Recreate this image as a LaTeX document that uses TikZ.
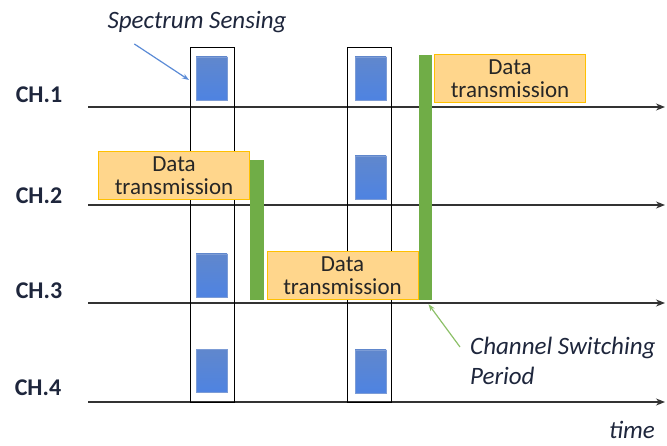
\documentclass[tikz,border=0pt]{standalone}
\usepackage{fontspec}
\setmainfont{Carlito}
\usepackage{xcolor}
\usetikzlibrary{arrows.meta, positioning, calc}

\definecolor{dataorange}{RGB}{255,214,140}
\definecolor{databorder}{RGB}{255,192,0}
\definecolor{switchgreen}{RGB}{112,173,71}
\definecolor{senseblue}{RGB}{68,114,196}
\definecolor{arrowblue}{RGB}{91,139,214}
\definecolor{arrowgreen}{RGB}{140,192,104}
\definecolor{labelink}{RGB}{30,38,60}

\tikzset{
  chlabel/.style={font=\fontsize{24}{26}\selectfont\bfseries, text=labelink, inner sep=0},
  chline/.style={draw=black!80, line width=1.2pt, -{Stealth[length=9pt,width=7pt]}},
  frame/.style={draw=black, line width=1pt, minimum width=44pt, minimum height=354pt, inner sep=0},
  sensebox/.style={draw=senseblue!70, top color=senseblue!85, bottom color=senseblue!115!black, minimum width=31pt, minimum height=43pt, inner sep=0},
  databox/.style={draw=databorder, fill=dataorange, line width=1pt, minimum width=151pt, minimum height=48pt, inner sep=0, align=center, font=\fontsize{23}{23}\selectfont, text=black!85},
  switchbar/.style={fill=switchgreen, draw=none, minimum width=14pt, inner sep=0},
  note/.style={font=\fontsize{25}{30}\selectfont\itshape, text=labelink, inner sep=0}
}

\begin{document}
\begin{tikzpicture}[x=1pt, y=-1pt]
\useasboundingbox (0,0) rectangle (667,446);

% channels
\node[chlabel] (ch1) at (39,95) {CH.1};
\node[chlabel] (ch2) at (39,196) {CH.2};
\node[chlabel] (ch3) at (39,291) {CH.3};
\node[chlabel] (ch4) at (38,388) {CH.4};

\coordinate (l1) at (88,107);
\coordinate (r1) at (665,107);
\coordinate (l2) at (88,205);
\coordinate (r2) at (665,205);
\coordinate (l3) at (88,303);
\coordinate (r3) at (665,303);
\coordinate (l4) at (88,402);
\coordinate (r4) at (665,402);

\draw[chline] (l1) -- (r1);
\draw[chline] (l2) -- (r2);
\draw[chline] (l3) -- (r3);
\draw[chline] (l4) -- (r4);

% sensing frames
\node[frame] (frameA) at (212,225) {};
\node[frame] (frameB) at (369.5,225) {};

\node[sensebox] (sA1) at (211.5,78.5) {};
\node[sensebox] (sA3) at (211.5,275.5) {};
\node[sensebox] (sA4) at (211.5,371) {};
\node[sensebox] (sB1) at (370.5,78.5) {};
\node[sensebox] (sB2) at (370.5,177.5) {};
\node[sensebox] (sB4) at (370.5,371.5) {};

% data transmission
\node[databox] (dataA) at (174,176) {Data\\transmission};
\node[databox] (dataB) at (342.5,275.5) {Data\\transmission};
\node[databox] (dataC) at (510,78.5) {Data\\transmission};

% switching periods
\node[switchbar, minimum height=140pt] (swA) at (257,230) {};
\node[switchbar, minimum width=13pt, minimum height=245pt] (swB) at (425.5,177.5) {};

% notes
\node[note] (sense) at (197,22) {Spectrum Sensing};
\coordinate (senseTip) at (189,80);
\draw[arrowblue, line width=1.2pt, -{Stealth[length=7pt,width=5pt]}] ($(sense.south west)+(27,11)$) -- (senseTip);

\node[note, align=left, anchor=west] (switch) at (470,361) {Channel Switching\\Period};
\draw[arrowgreen, line width=1.2pt, -{Stealth[length=7pt,width=5pt]}] ($(switch.west)+(-10,-14)$) -- ($(swB.south)+(3,4)$);

\node[note, anchor=base east] (time) at (655,438) {time};
\end{tikzpicture}
\end{document}
